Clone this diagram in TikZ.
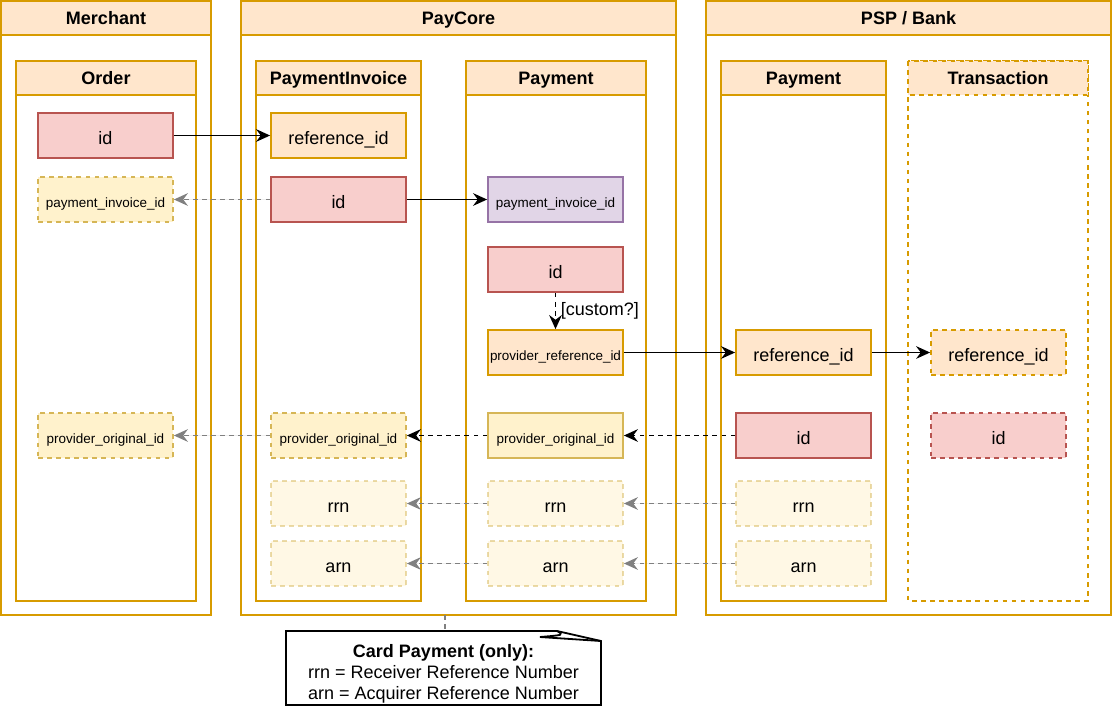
\documentclass[tikz,border=0pt]{standalone}
\usepackage{fontspec}
\setmainfont{Liberation Sans}
\usetikzlibrary{arrows.meta}

\definecolor{orangefill}{HTML}{FFE6CC}
\definecolor{orangeline}{HTML}{D79B00}
\definecolor{redfill}{HTML}{F8CECC}
\definecolor{redline}{HTML}{B85450}
\definecolor{yellowfill}{HTML}{FFF2CC}
\definecolor{yellowline}{HTML}{D6B656}
\definecolor{purplefill}{HTML}{E1D5E7}
\definecolor{purpleline}{HTML}{9673A6}

\begin{document}
\begin{tikzpicture}[x=0.75pt,y=-0.75pt,line width=1.35pt,
    lane/.style={draw=orangeline},
    lanehead/.style={draw=orangeline,fill=orangefill},
    lanetitle/.style={text height=9pt,text depth=0pt,font=\fontsize{13.5}{16}\selectfont\bfseries},
    field/.style={line width=1.35pt,minimum width=101.25pt,minimum height=33.75pt,inner sep=0pt,
        text height=12.8pt,text depth=0pt,font=\fontsize{13.5}{16}\selectfont},
    small/.style={text height=12pt,font=\fontsize{10.1}{12}\selectfont},
    keybox/.style={field,draw=redline,fill=redfill},
    refbox/.style={field,draw=orangeline,fill=orangefill},
    optbox/.style={field,draw=yellowline,fill=yellowfill},
    linkbox/.style={field,draw=purpleline,fill=purplefill},
    fadedbox/.style={optbox,dashdot,draw opacity=0.5,fill opacity=0.5,text opacity=1},
    dashdot/.style={dash pattern=on 3.4pt off 3.4pt},
    ref/.style={line width=1.2pt,-{Stealth[length=10.5pt,width=9.5pt,inset=3.5pt]}},
    back/.style={ref,dashdot},
    weak/.style={back,draw=black!50,fill=black!50}
]
    \useasboundingbox (0,0) rectangle (1112,707);

    % lanes
    \draw[lane] (1,1) rectangle (211,615); % merchant
    \draw[lanehead] (1,1) rectangle (211,35);
    \node[lanetitle] (merchant) at (106,18.5) {Merchant};
    \draw[lane] (241,1) rectangle (676,615); % paycore
    \draw[lanehead] (241,1) rectangle (676,35);
    \node[lanetitle] (paycore) at (458.5,18.5) {PayCore};
    \draw[lane] (706,1) rectangle (1111,615); % psp
    \draw[lanehead] (706,1) rectangle (1111,35);
    \node[lanetitle] (psp) at (908.5,18.5) {PSP / Bank};

    % tables
    \draw[lane] (16,61) rectangle (196,601); % order
    \draw[lanehead] (16,61) rectangle (196,95);
    \node[lanetitle] (order) at (106,78.5) {Order};
    \draw[lane] (256,61) rectangle (421,601); % payment invoice
    \draw[lanehead] (256,61) rectangle (421,95);
    \node[lanetitle] (invoice) at (338.5,78.5) {PaymentInvoice};
    \draw[lane] (466,61) rectangle (646,601); % payment
    \draw[lanehead] (466,61) rectangle (646,95);
    \node[lanetitle] (payment) at (556,78.5) {Payment};
    \draw[lane] (721,61) rectangle (886,601); % psp payment
    \draw[lanehead] (721,61) rectangle (886,95);
    \node[lanetitle] (pspPayment) at (803.5,78.5) {Payment};
    \draw[lane,dashdot] (908,61) rectangle (1088,601); % transaction
    \draw[lanehead,dashdot] (908,61) rectangle (1088,95);
    \node[lanetitle] (transaction) at (998,78.5) {Transaction};

    % order fields
    \node[keybox] (O1) at (105.5,135.5) {id};
    \node[optbox,dashdot,small] (O2) at (105.5,199.5) {payment\_invoice\_id};
    \node[optbox,dashdot,small] (O3) at (105.5,435.5) {provider\_original\_id};

    % payment invoice fields
    \node[refbox] (I1) at (338.5,135.5) {reference\_id};
    \node[keybox] (I2) at (338.5,199.5) {id};
    \node[optbox,dashdot,small] (I3) at (338.5,435.5) {provider\_original\_id};
    \node[fadedbox] (I4) at (338.5,503.5) {rrn};
    \node[fadedbox] (I5) at (338.5,563.5) {arn};

    % payment fields
    \node[linkbox,small] (P1) at (555.5,199.5) {payment\_invoice\_id};
    \node[keybox] (P2) at (555.5,269.5) {id};
    \node[refbox,small] (P3) at (555.5,352.5) {provider\_reference\_id};
    \node[optbox,small] (P4) at (555.5,435.5) {provider\_original\_id};
    \node[fadedbox] (P5) at (555.5,503.5) {rrn};
    \node[fadedbox] (P6) at (555.5,563.5) {arn};

    % psp payment fields
    \node[refbox] (B1) at (803.5,352.5) {reference\_id};
    \node[keybox] (B2) at (803.5,435.5) {id};
    \node[fadedbox] (B3) at (803.5,503.5) {rrn};
    \node[fadedbox] (B4) at (803.5,563.5) {arn};

    % transaction fields
    \node[refbox,dashdot] (T1) at (998.5,352.5) {reference\_id};
    \node[keybox,dashdot] (T2) at (998.5,435.5) {id};

    % links
    \draw[ref] (O1) -- (I1);
    \draw[weak] (I2) -- (O2);
    \draw[ref] (I2) -- (P1);
    \draw[back] (P2) -- (P3) node[pos=0.5,right=0pt,font=\fontsize{13.5}{16}\selectfont] (custom) {[custom?]};
    \draw[ref] (P3) -- (B1);
    \draw[ref] (B1) -- (T1);
    \draw[back] (B2) -- (P4);
    \draw[back] (P4) -- (I3);
    \draw[weak] (I3) -- (O3);
    \draw[weak] (B3) -- (P5);
    \draw[weak] (P5) -- (I4);
    \draw[weak] (B4) -- (P6);
    \draw[weak] (P6) -- (I5);

    % note
    \coordinate (laneFoot) at (445,615);
    \coordinate (noteTop) at (445,631);
    \draw[black!50,dashdot] (laneFoot) -- (noteTop);
    \draw[fill=white] (286,631) -- (557,631) -- (601,641) -- (601,705) -- (286,705) -- cycle;
    \draw (557,631) .. controls (564,635) .. (540,637) -- (601,641); % curl
    \node[align=center,font=\fontsize{13.5}{15.75}\selectfont] (note) at (443.5,673.5)
        {\textbf{Card Payment (only):}\\rrn = Receiver Reference Number\\arn = Acquirer Reference Number};

\end{tikzpicture}
\end{document}
